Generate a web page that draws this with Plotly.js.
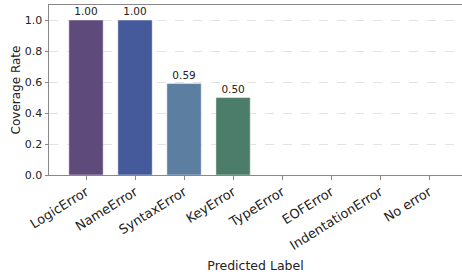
<!DOCTYPE html>
<html><head><meta charset="utf-8">
<script src="https://cdn.plot.ly/plotly-3.0.1.min.js"></script>
<style>html,body{margin:0;padding:0;overflow:hidden;background:#fff}</style>
</head><body><div id="chart" style="width:462px;height:277px"></div>
<script>
const categories = ["LogicError","NameError","SyntaxError","KeyError","TypeError","EOFError","IndentationError","No error"];
const coverage = [1.00, 1.00, 0.59, 0.50, 0, 0, 0, 0];
const barColors = ["#5f4b7b","#455a9a","#5b7ea1","#4c7d6b","#4c7d6b","#4c7d6b","#4c7d6b","#4c7d6b"];
const labels = coverage.map(v => v > 0 ? v.toFixed(2) : "");
const font = "DejaVu Sans, sans-serif";
Plotly.newPlot("chart", [{
  type: "bar",
  x: categories.map((c,i)=>i),
  y: coverage,
  width: 0.7,
  marker: {color: barColors, line: {color: "rgba(255,255,255,0.45)", width: 1}},
  text: labels,
  textposition: "outside",
  textfont: {family: font, size: 10.5, color: "#222"},
  cliponaxis: false,
  hoverinfo: "none"
}], {
  width: 462, height: 277,
  margin: {l: 49, r: 0, t: 5, b: 102},
  paper_bgcolor: "#fff", plot_bgcolor: "#fff",
  showlegend: false,
  font: {family: font, size: 11, color: "#222"},
  xaxis: {
    range: [-0.755, 7.67],
    tickmode: "array", tickvals: categories.map((c,i)=>i), ticktext: categories,
    tickangle: -32, tickfont: {size: 13},
    ticks: "outside", ticklen: 3.5, tickcolor: "#888",
    showline: true, linecolor: "#888", linewidth: 1, mirror: true,
    showgrid: false, zeroline: false,
    title: {text: "Predicted Label", font: {size: 12.5}, standoff: 9}
  },
  yaxis: {
    range: [0, 1.097],
    tickvals: [0,0.2,0.4,0.6,0.8,1.0], ticktext: ["0.0","0.2","0.4","0.6","0.8","1.0"],
    ticks: "outside", ticklen: 3.5, tickcolor: "#888",
    showline: true, linecolor: "#888", linewidth: 1,
    showgrid: true, gridcolor: "#dcdcdc", griddash: "dash", gridwidth: 0.8,
    zeroline: false,
    title: {text: "Coverage Rate", font: {size: 12}, standoff: 1}
  }
}, {staticPlot: true});
</script></body></html>
